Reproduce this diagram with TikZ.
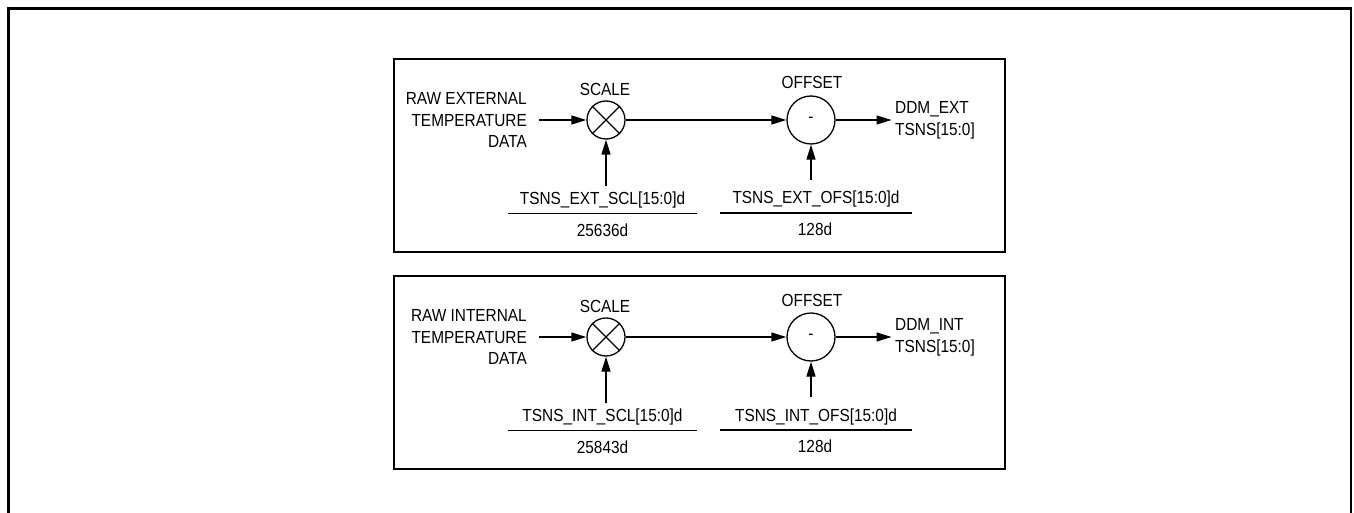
\documentclass[tikz,border=0pt]{standalone}
\usepackage{fontspec}
\setmainfont{Liberation Sans}[FakeStretch=0.88]
\usetikzlibrary{arrows.meta}
\begin{document}
\begin{tikzpicture}[x=1pt,y=-1pt,
  every node/.style={font=\fontsize{17.5}{21.7}\selectfont, inner sep=0pt},
  arr/.style={-{Triangle[length=15pt,width=9pt]}, line width=1.3pt},
  conn/.style={line width=1.3pt},
  boxline/.style={line width=1.7pt},
  mult/.style={circle, draw, line width=1.3pt, minimum size=38pt},
  subt/.style={circle, draw, line width=1.3pt, minimum size=48pt},
  param/.style={anchor=base, text height=12.8pt, text depth=3.7pt, inner ysep=5pt}]
\path[fill=white, use as bounding box] (0,0) rectangle (1354,513);
\draw[line width=2.5pt] (8.5,513) -- (8.5,8.5) -- (1351,8.5) -- (1351,513);
\foreach \dy/\n/\k/\w/\v in {0/1/EXT/EXTERNAL/25636d,217/2/INT/INTERNAL/25843d}{
  \draw[boxline] (394,59+\dy) rectangle (1005,252+\dy);
  \node[mult] (sc\n) at (606,120+\dy) {};
  \draw[conn] (sc\n.north west) -- (sc\n.south east) (sc\n.north east) -- (sc\n.south west);
  \node[subt] (of\n) at (811,120+\dy) {-};
  \node[anchor=base] (scl\n) at (605,95.7+\dy) {SCALE};
  \node[anchor=base] (ofl\n) at (812,89+\dy) {OFFSET};
  \node[align=right, anchor=east, inner xsep=12pt] (in\n) at (539,120+\dy) {RAW \w\\TEMPERATURE\\DATA};
  \node[align=left, anchor=west, inner xsep=3.5pt] (out\n) at (891.5,120+\dy) {DDM\_\k\\TSNS[15:0]};
  \node[param, minimum width=189pt] (sp\n) at (602.5,204.3+\dy) {TSNS\_\k\_SCL[15:0]d};
  \node[anchor=base] (sv\n) at (602.5,236.5+\dy) {\v};
  \node[param, minimum width=192pt] (op\n) at (816,204+\dy) {TSNS\_\k\_OFS[15:0]d};
  \node[anchor=base] (ov\n) at (815,235.5+\dy) {128d};
  \draw[conn] (sp\n.south west) -- (sp\n.south east);
  \draw[conn] (op\n.south west) -- (op\n.south east);
  \draw[arr] (in\n) -- (sc\n);
  \draw[arr] (sc\n) -- (of\n);
  \draw[arr] (of\n) -- (out\n);
  \draw[arr] (sc\n |- sp\n.north) -- (sc\n);
  \draw[arr] ([yshift=6pt]of\n |- op\n.north) -- (of\n);
}
\end{tikzpicture}
\end{document}
